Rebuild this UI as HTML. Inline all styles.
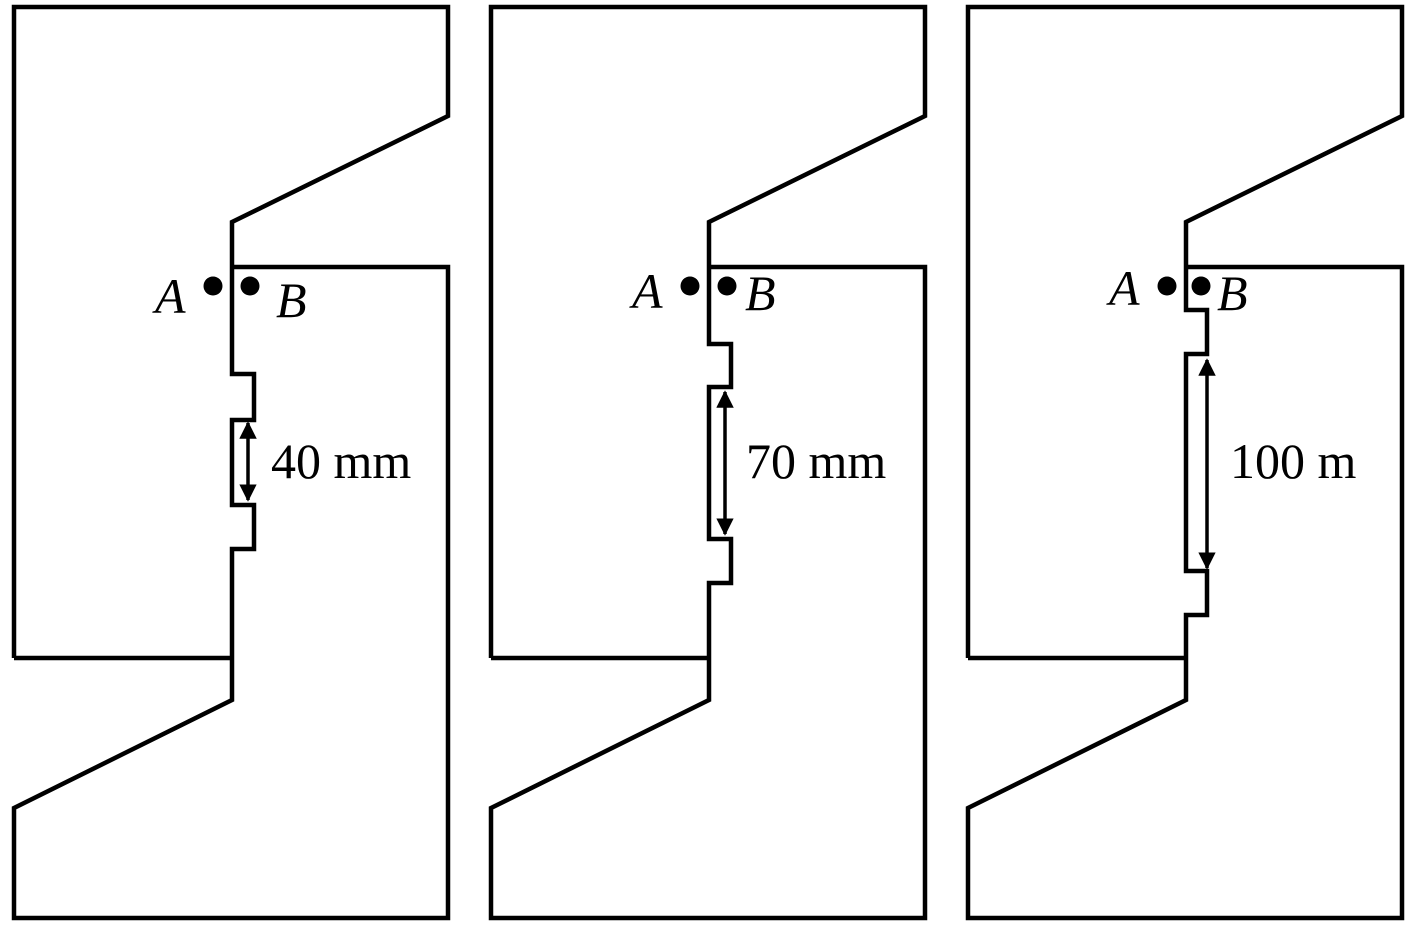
<!DOCTYPE html>
<html><head><meta charset="utf-8"><style>html,body{margin:0;padding:0;background:#fff}svg{display:block}</style></head>
<body>
<svg width="1417" height="925" viewBox="0 0 1417 925" xmlns="http://www.w3.org/2000/svg">
<defs>
<marker id="ah" viewBox="0 0 10 10" refX="9" refY="5" markerWidth="5" markerHeight="5" orient="auto-start-reverse" markerUnits="strokeWidth"><path d="M0,0 L10,5 L0,10 z" fill="#000"/></marker>
</defs>
<g fill="none" stroke="#000" stroke-width="4.5" stroke-linejoin="miter">
<path d="M14,658 L14,7 L448,7 L448,116 L232,222 L232,374 L254,374 L254,420 L232,420 L232,505 L254,505 L254,549 L232,549 L232,700 L14,808 L14,918 L448,918 L448,267 L232,267"/>
<path d="M14,658 L232,658"/>
<line x1="248" y1="423" x2="248" y2="500" marker-start="url(#ah)" marker-end="url(#ah)" stroke-width="3.5"/>
<path d="M491,658 L491,7 L925,7 L925,116 L709,222 L709,344 L731,344 L731,387 L709,387 L709,539 L731,539 L731,583 L709,583 L709,700 L491,808 L491,918 L925,918 L925,267 L709,267"/>
<path d="M491,658 L709,658"/>
<line x1="725" y1="392" x2="725" y2="534" marker-start="url(#ah)" marker-end="url(#ah)" stroke-width="3.5"/>
<path d="M968,658 L968,7 L1402,7 L1402,116 L1186,222 L1186,310 L1207,310 L1207,354 L1186,354 L1186,571 L1207,571 L1207,615 L1186,615 L1186,700 L968,808 L968,918 L1402,918 L1402,267 L1186,267"/>
<path d="M968,658 L1186,658"/>
<line x1="1207" y1="360" x2="1207" y2="568" marker-start="url(#ah)" marker-end="url(#ah)" stroke-width="3.5"/>
</g>
<g fill="#000">
<circle cx="213" cy="286" r="9.5"/><circle cx="250" cy="286" r="9.5"/>
<circle cx="690" cy="286" r="9.5"/><circle cx="727" cy="286" r="9.5"/>
<circle cx="1167" cy="286" r="9.5"/><circle cx="1201" cy="286" r="9.5"/>
</g>
<g font-family="Liberation Serif, serif" font-size="50" fill="#000">
<text x="155" y="313" font-style="italic">A</text>
<text x="276" y="317" font-style="italic">B</text>
<text x="271" y="478">40 mm</text>
<text x="632" y="308" font-style="italic">A</text>
<text x="745" y="310" font-style="italic">B</text>
<text x="746" y="478">70 mm</text>
<text x="1109" y="305" font-style="italic">A</text>
<text x="1217" y="310" font-style="italic">B</text>
<text x="1230" y="478">100 m</text>
</g>
</svg>
</body></html>
